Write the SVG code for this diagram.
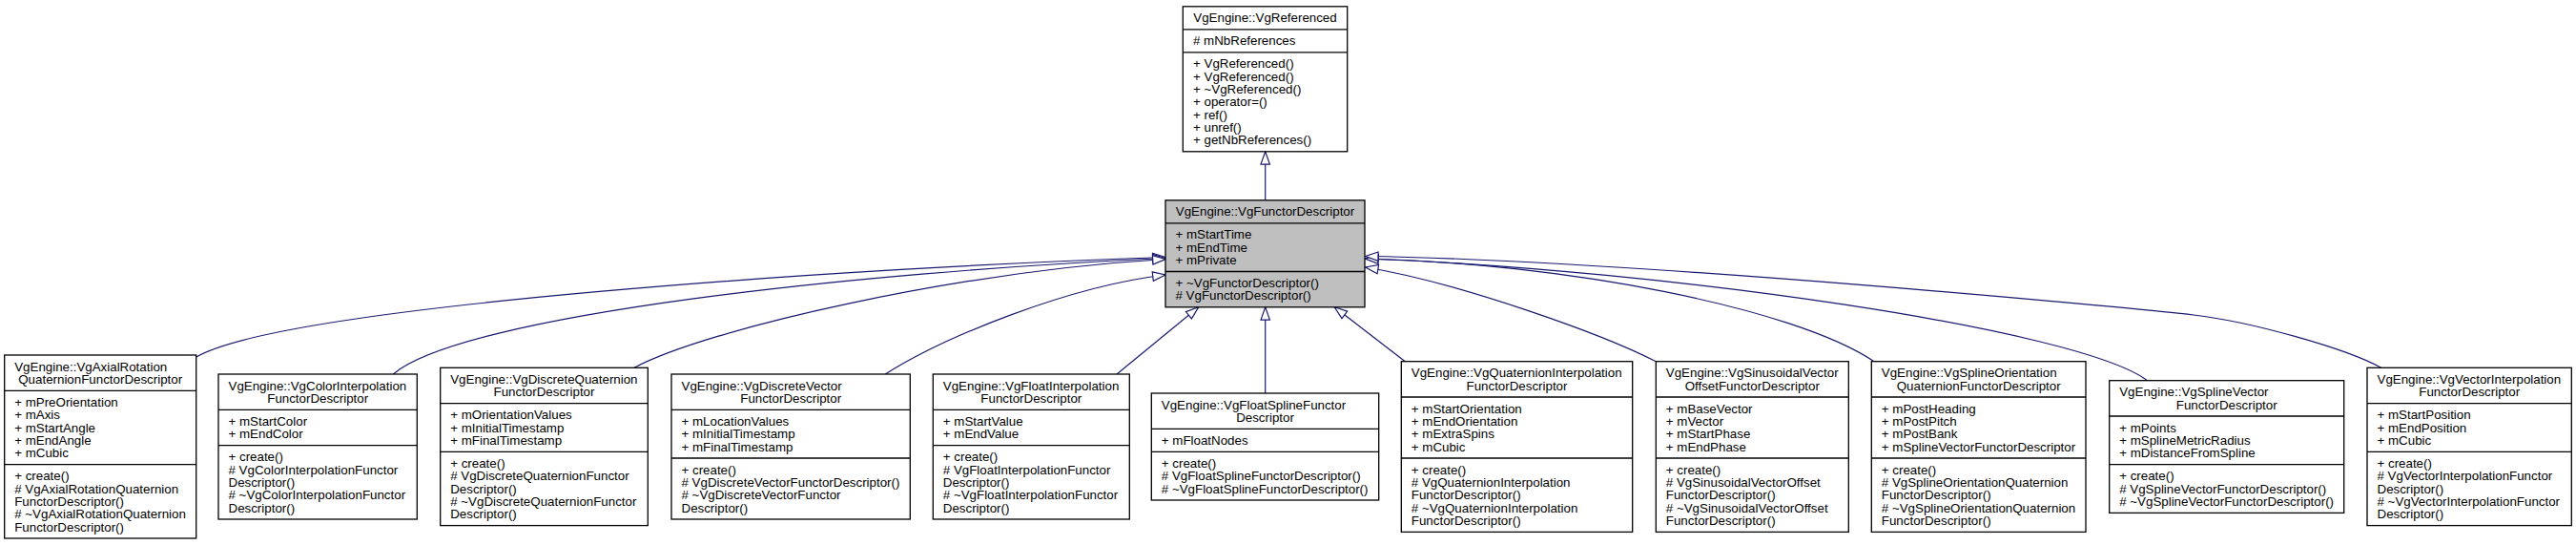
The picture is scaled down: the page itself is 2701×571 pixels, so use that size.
<svg xmlns="http://www.w3.org/2000/svg" width="2701" height="571" viewBox="0 0 2701 571">
<style>
text{font-family:"Liberation Sans",Arial,Helvetica,sans-serif;font-size:13.33px;fill:#000}
.c{text-anchor:middle}
.b{fill:#fff;stroke:#000;stroke-width:1.3}
.g{fill:#bfbfbf;stroke:#000;stroke-width:1.3}
.s{stroke:#000;stroke-width:1.3}
.e{fill:none;stroke:#191970;stroke-width:1.2;marker-end:url(#tri)}
</style>
<defs>
<marker id="tri" markerUnits="userSpaceOnUse" markerWidth="18" markerHeight="14" viewBox="-15 -7 18 14" refX="0" refY="0" orient="auto" overflow="visible">
<path d="M-13.3,-4.7 L0,0 L-13.3,4.7 Z" fill="#fff" stroke="#191970" stroke-width="1.2"/>
</marker>
</defs>
<rect width="2701" height="571" fill="#fff"/>
<g id="connectors">
<path class="e" d="M1326.7,209.8 L1326.7,158.8"/>
<path class="e" d="M1326.7,412 L1326.7,321.8"/>
<path class="e" d="M1171,392 L1256.7,321.8"/>
<path class="e" d="M1473.3,378.7 L1399.3,321.8"/>
<path class="e" d="M205.7,374 C300,320 900,280 1222,269.5"/>
<path class="e" d="M412.3,392 C485,330 900,285 1222,270.5"/>
<path class="e" d="M665,385.3 C740,345 1000,285 1222,271.5"/>
<path class="e" d="M928.3,392 C990,353 1120,300 1222,288"/>
<path class="e" d="M1736.3,378.7 C1680,350 1530,296 1431.7,280"/>
<path class="e" d="M1965,378.7 C1880,322 1640,276 1431.7,271"/>
<path class="e" d="M2251.7,398.7 C2180,345 1750,283 1431.7,271"/>
<path class="e" d="M2496.7,385.3 C2460,365 2360,337 2300,330 S1700,272 1431.7,268.5"/>
</g>
<g id="VgReferenced">
<rect class="b" x="1240.3" y="6.8" width="172.4" height="152"/>
<line class="s" x1="1240.3" y1="30.8" x2="1412.7" y2="30.8"/>
<line class="s" x1="1240.3" y1="54.8" x2="1412.7" y2="54.8"/>
<text class="c" x="1326.5" y="23.3">VgEngine::VgReferenced</text>
<text x="1251" y="47.3"># mNbReferences</text>
<text x="1251" y="71.3">+ VgReferenced()</text>
<text x="1251" y="84.6">+ VgReferenced()</text>
<text x="1251" y="98">+ ~VgReferenced()</text>
<text x="1251" y="111.3">+ operator=()</text>
<text x="1251" y="124.6">+ ref()</text>
<text x="1251" y="138">+ unref()</text>
<text x="1251" y="151.3">+ getNbReferences()</text>
</g>
<g id="VgFunctorDescriptor">
<rect class="g" x="1222" y="209.8" width="209" height="112"/>
<line class="s" x1="1222" y1="233.8" x2="1431" y2="233.8"/>
<line class="s" x1="1222" y1="284.5" x2="1431" y2="284.5"/>
<text class="c" x="1326.5" y="226.3">VgEngine::VgFunctorDescriptor</text>
<text x="1232.5" y="250.3">+ mStartTime</text>
<text x="1232.5" y="263.6">+ mEndTime</text>
<text x="1232.5" y="277">+ mPrivate</text>
<text x="1232.5" y="301">+ ~VgFunctorDescriptor()</text>
<text x="1232.5" y="314.3"># VgFunctorDescriptor()</text>
</g>
<g id="VgAxialRotationQuaternionFunctorDescriptor">
<rect class="b" x="4.7" y="372" width="201" height="192"/>
<line class="s" x1="4.7" y1="409.3" x2="205.7" y2="409.3"/>
<line class="s" x1="4.7" y1="486.7" x2="205.7" y2="486.7"/>
<text x="15.2" y="388.5">VgEngine::VgAxialRotation</text>
<text class="c" x="105.2" y="401.8">QuaternionFunctorDescriptor</text>
<text x="15.2" y="425.8">+ mPreOrientation</text>
<text x="15.2" y="439.2">+ mAxis</text>
<text x="15.2" y="452.5">+ mStartAngle</text>
<text x="15.2" y="465.8">+ mEndAngle</text>
<text x="15.2" y="479.2">+ mCubic</text>
<text x="15.2" y="503.2">+ create()</text>
<text x="15.2" y="516.5"># VgAxialRotationQuaternion</text>
<text x="15.2" y="529.8">FunctorDescriptor()</text>
<text x="15.2" y="543.2"># ~VgAxialRotationQuaternion</text>
<text x="15.2" y="556.5">FunctorDescriptor()</text>
</g>
<g id="VgColorInterpolationFunctorDescriptor">
<rect class="b" x="229" y="392" width="208.3" height="152"/>
<line class="s" x1="229" y1="429.3" x2="437.3" y2="429.3"/>
<line class="s" x1="229" y1="466.7" x2="437.3" y2="466.7"/>
<text x="239.5" y="408.5">VgEngine::VgColorInterpolation</text>
<text class="c" x="333.2" y="421.8">FunctorDescriptor</text>
<text x="239.5" y="445.8">+ mStartColor</text>
<text x="239.5" y="459.2">+ mEndColor</text>
<text x="239.5" y="483.2">+ create()</text>
<text x="239.5" y="496.5"># VgColorInterpolationFunctor</text>
<text x="239.5" y="509.8">Descriptor()</text>
<text x="239.5" y="523.2"># ~VgColorInterpolationFunctor</text>
<text x="239.5" y="536.5">Descriptor()</text>
</g>
<g id="VgDiscreteQuaternionFunctorDescriptor">
<rect class="b" x="461.7" y="385.3" width="217.6" height="165.3"/>
<line class="s" x1="461.7" y1="422.7" x2="679.3" y2="422.7"/>
<line class="s" x1="461.7" y1="473.3" x2="679.3" y2="473.3"/>
<text x="472.2" y="401.8">VgEngine::VgDiscreteQuaternion</text>
<text class="c" x="570.5" y="415.2">FunctorDescriptor</text>
<text x="472.2" y="439.2">+ mOrientationValues</text>
<text x="472.2" y="452.5">+ mInitialTimestamp</text>
<text x="472.2" y="465.8">+ mFinalTimestamp</text>
<text x="472.2" y="489.8">+ create()</text>
<text x="472.2" y="503.2"># VgDiscreteQuaternionFunctor</text>
<text x="472.2" y="516.5">Descriptor()</text>
<text x="472.2" y="529.8"># ~VgDiscreteQuaternionFunctor</text>
<text x="472.2" y="543.2">Descriptor()</text>
</g>
<g id="VgDiscreteVectorFunctorDescriptor">
<rect class="b" x="704" y="392" width="250.3" height="152"/>
<line class="s" x1="704" y1="429.3" x2="954.3" y2="429.3"/>
<line class="s" x1="704" y1="480" x2="954.3" y2="480"/>
<text x="714.5" y="408.5">VgEngine::VgDiscreteVector</text>
<text class="c" x="829.2" y="421.8">FunctorDescriptor</text>
<text x="714.5" y="445.8">+ mLocationValues</text>
<text x="714.5" y="459.2">+ mInitialTimestamp</text>
<text x="714.5" y="472.5">+ mFinalTimestamp</text>
<text x="714.5" y="496.5">+ create()</text>
<text x="714.5" y="509.8"># VgDiscreteVectorFunctorDescriptor()</text>
<text x="714.5" y="523.2"># ~VgDiscreteVectorFunctor</text>
<text x="714.5" y="536.5">Descriptor()</text>
</g>
<g id="VgFloatInterpolationFunctorDescriptor">
<rect class="b" x="978.3" y="392" width="206" height="152"/>
<line class="s" x1="978.3" y1="429.3" x2="1184.3" y2="429.3"/>
<line class="s" x1="978.3" y1="466.7" x2="1184.3" y2="466.7"/>
<text x="988.8" y="408.5">VgEngine::VgFloatInterpolation</text>
<text class="c" x="1081.3" y="421.8">FunctorDescriptor</text>
<text x="988.8" y="445.8">+ mStartValue</text>
<text x="988.8" y="459.2">+ mEndValue</text>
<text x="988.8" y="483.2">+ create()</text>
<text x="988.8" y="496.5"># VgFloatInterpolationFunctor</text>
<text x="988.8" y="509.8">Descriptor()</text>
<text x="988.8" y="523.2"># ~VgFloatInterpolationFunctor</text>
<text x="988.8" y="536.5">Descriptor()</text>
</g>
<g id="VgFloatSplineFunctorDescriptor">
<rect class="b" x="1207.3" y="412" width="238.4" height="112"/>
<line class="s" x1="1207.3" y1="449.3" x2="1445.7" y2="449.3"/>
<line class="s" x1="1207.3" y1="473.3" x2="1445.7" y2="473.3"/>
<text x="1217.8" y="428.5">VgEngine::VgFloatSplineFunctor</text>
<text class="c" x="1326.5" y="441.8">Descriptor</text>
<text x="1217.8" y="465.8">+ mFloatNodes</text>
<text x="1217.8" y="489.8">+ create()</text>
<text x="1217.8" y="503.2"># VgFloatSplineFunctorDescriptor()</text>
<text x="1217.8" y="516.5"># ~VgFloatSplineFunctorDescriptor()</text>
</g>
<g id="VgQuaternionInterpolationFunctorDescriptor">
<rect class="b" x="1469.3" y="378.7" width="242.4" height="178.7"/>
<line class="s" x1="1469.3" y1="416" x2="1711.7" y2="416"/>
<line class="s" x1="1469.3" y1="480" x2="1711.7" y2="480"/>
<text x="1479.8" y="395.2">VgEngine::VgQuaternionInterpolation</text>
<text class="c" x="1590.5" y="408.5">FunctorDescriptor</text>
<text x="1479.8" y="432.5">+ mStartOrientation</text>
<text x="1479.8" y="445.8">+ mEndOrientation</text>
<text x="1479.8" y="459.2">+ mExtraSpins</text>
<text x="1479.8" y="472.5">+ mCubic</text>
<text x="1479.8" y="496.5">+ create()</text>
<text x="1479.8" y="509.8"># VgQuaternionInterpolation</text>
<text x="1479.8" y="523.2">FunctorDescriptor()</text>
<text x="1479.8" y="536.5"># ~VgQuaternionInterpolation</text>
<text x="1479.8" y="549.8">FunctorDescriptor()</text>
</g>
<g id="VgSinusoidalVectorOffsetFunctorDescriptor">
<rect class="b" x="1736.3" y="378.7" width="202" height="178.7"/>
<line class="s" x1="1736.3" y1="416" x2="1938.3" y2="416"/>
<line class="s" x1="1736.3" y1="480" x2="1938.3" y2="480"/>
<text x="1746.8" y="395.2">VgEngine::VgSinusoidalVector</text>
<text class="c" x="1837.3" y="408.5">OffsetFunctorDescriptor</text>
<text x="1746.8" y="432.5">+ mBaseVector</text>
<text x="1746.8" y="445.8">+ mVector</text>
<text x="1746.8" y="459.2">+ mStartPhase</text>
<text x="1746.8" y="472.5">+ mEndPhase</text>
<text x="1746.8" y="496.5">+ create()</text>
<text x="1746.8" y="509.8"># VgSinusoidalVectorOffset</text>
<text x="1746.8" y="523.2">FunctorDescriptor()</text>
<text x="1746.8" y="536.5"># ~VgSinusoidalVectorOffset</text>
<text x="1746.8" y="549.8">FunctorDescriptor()</text>
</g>
<g id="VgSplineOrientationQuaternionFunctorDescriptor">
<rect class="b" x="1962.3" y="378.7" width="224.7" height="178.7"/>
<line class="s" x1="1962.3" y1="416" x2="2187" y2="416"/>
<line class="s" x1="1962.3" y1="480" x2="2187" y2="480"/>
<text x="1972.8" y="395.2">VgEngine::VgSplineOrientation</text>
<text class="c" x="2074.7" y="408.5">QuaternionFunctorDescriptor</text>
<text x="1972.8" y="432.5">+ mPostHeading</text>
<text x="1972.8" y="445.8">+ mPostPitch</text>
<text x="1972.8" y="459.2">+ mPostBank</text>
<text x="1972.8" y="472.5">+ mSplineVectorFunctorDescriptor</text>
<text x="1972.8" y="496.5">+ create()</text>
<text x="1972.8" y="509.8"># VgSplineOrientationQuaternion</text>
<text x="1972.8" y="523.2">FunctorDescriptor()</text>
<text x="1972.8" y="536.5"># ~VgSplineOrientationQuaternion</text>
<text x="1972.8" y="549.8">FunctorDescriptor()</text>
</g>
<g id="VgSplineVectorFunctorDescriptor">
<rect class="b" x="2211.7" y="398.7" width="246" height="138.7"/>
<line class="s" x1="2211.7" y1="436" x2="2457.7" y2="436"/>
<line class="s" x1="2211.7" y1="486.7" x2="2457.7" y2="486.7"/>
<text x="2222.2" y="415.2">VgEngine::VgSplineVector</text>
<text class="c" x="2334.7" y="428.5">FunctorDescriptor</text>
<text x="2222.2" y="452.5">+ mPoints</text>
<text x="2222.2" y="465.8">+ mSplineMetricRadius</text>
<text x="2222.2" y="479.2">+ mDistanceFromSpline</text>
<text x="2222.2" y="503.2">+ create()</text>
<text x="2222.2" y="516.5"># VgSplineVectorFunctorDescriptor()</text>
<text x="2222.2" y="529.8"># ~VgSplineVectorFunctorDescriptor()</text>
</g>
<g id="VgVectorInterpolationFunctorDescriptor">
<rect class="b" x="2482" y="385.3" width="214.3" height="165.3"/>
<line class="s" x1="2482" y1="422.7" x2="2696.3" y2="422.7"/>
<line class="s" x1="2482" y1="473.3" x2="2696.3" y2="473.3"/>
<text x="2492.5" y="401.8">VgEngine::VgVectorInterpolation</text>
<text class="c" x="2589.2" y="415.2">FunctorDescriptor</text>
<text x="2492.5" y="439.2">+ mStartPosition</text>
<text x="2492.5" y="452.5">+ mEndPosition</text>
<text x="2492.5" y="465.8">+ mCubic</text>
<text x="2492.5" y="489.8">+ create()</text>
<text x="2492.5" y="503.2"># VgVectorInterpolationFunctor</text>
<text x="2492.5" y="516.5">Descriptor()</text>
<text x="2492.5" y="529.8"># ~VgVectorInterpolationFunctor</text>
<text x="2492.5" y="543.2">Descriptor()</text>
</g>
</svg>
